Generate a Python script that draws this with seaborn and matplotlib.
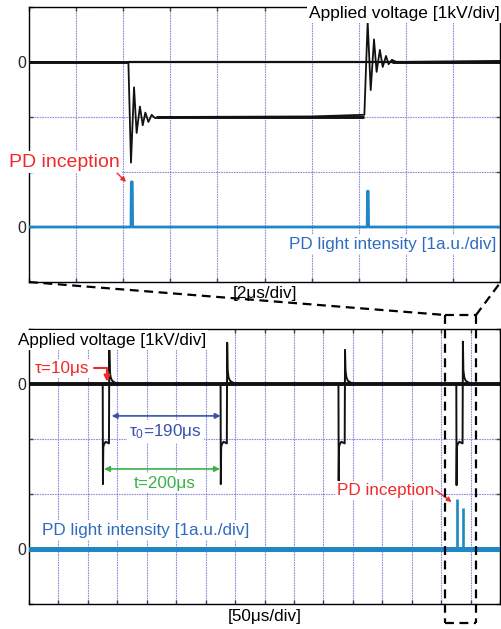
import numpy as np
import pandas as pd
import matplotlib
matplotlib.use("Agg")
import matplotlib.pyplot as plt
from matplotlib.lines import Line2D
import seaborn as sns

# ---------------- data ----------------
# Top panel: 2 us/div, voltage in divisions (1 kV/div), PD light offset -3 div
top_v_time = [0.0, 4.22, 4.33, 4.46, 4.57, 4.71, 4.83, 4.94, 5.07, 5.21, 5.35, 5.6,
              12.0, 14.24, 14.38, 14.51, 14.65, 14.76, 14.90, 15.02, 15.16, 15.27,
              15.41, 15.6, 20.0]
top_v_vals = [0.0, 0.0, -1.83, -0.46, -1.29, -0.81, -1.15, -0.92, -1.09, -0.96, -1.02,
              -1.0, -0.99, -0.96, 0.73, -0.51, 0.41, -0.18, 0.22, -0.09, 0.11, -0.04,
              0.04, 0.0, 0.02]
top_ref_start = 4.22
# flat (noisy) stretches of the top voltage trace: level, start, end
top_band_level = [0.0, -1.0, 0.0]
top_band_start = [0.0, 5.4, 15.4]
top_band_end = [4.22, 14.24, 20.0]
top_pd_time = [0.0, 4.33, 4.345, 4.385, 4.40, 14.36, 14.375, 14.405, 14.42, 20.0]
top_pd_vals = [-3.0, -3.0, -2.18, -2.18, -3.0, -3.0, -2.35, -2.35, -3.0, -3.0]

# Bottom panel: 50 us/div
pulse_starts = [125.2, 325.4, 525.6, 725.8]
pulse_down_peak = [-1.82, -1.82, -1.76, -1.84]
pulse_up_peak = [0.62, 0.75, 0.62, 0.77]
pulse_rel_time = [0.0, 0.4, 1.0, 2.0, 5.0, 10.6, 11.2, 12.0, 13.5, 16.0, 20.0, 26.0]
pulse_rel_vals = [0.0, None, -1.15, -1.1, -1.05, -1.08, None, 0.25, 0.12, 0.06, 0.03, 0.0]
bottom_end = 800.0
pd_base = -3.0
bot_pd_spike_time = [726.4, 736.6]
bot_pd_spike_top = [-2.09, -2.25]

# colours
BLACK = "#111111"
BLUE_TRACE = "#1f87c8"
BLUE_TXT = "#2f6cc0"
INDIGO = "#3b52a8"
RED = "#ee2a2a"
GREEN = "#3bb04a"
GRID = "#8080dc"

# build the bottom voltage trace from pulse template
bv_t, bv_v = [0.0], [0.0]
for s, dn, up in zip(pulse_starts, pulse_down_peak, pulse_up_peak):
    for rt, rv in zip(pulse_rel_time, pulse_rel_vals):
        bv_t.append(s + rt)
        if rv is None:
            rv = dn if rt < 5 else up
        bv_v.append(rv)
bv_t.append(bottom_end)
bv_v.append(0.0)

bp_t = [0.0, bottom_end]
bp_v = [pd_base, pd_base]

# ---------------- style ----------------
sns.set_style("ticks")
plt.rcParams["font.family"] = ["Liberation Sans", "DejaVu Sans"]
plt.rcParams["mathtext.fontset"] = "custom"
plt.rcParams["mathtext.rm"] = "Liberation Sans"
plt.rcParams["mathtext.it"] = "Liberation Sans"

W, H = 501, 629
FS = 12.3
fig = plt.figure(figsize=(W / 100, H / 100), dpi=100)
ax1 = fig.add_axes([29 / W, 1 - 282 / H, 471 / W, 275 / H])
ax2 = fig.add_axes([29 / W, 1 - 604 / H, 471 / W, 275 / H])


def style_axes(ax, xmax, ndiv):
    ax.set_xlim(0, xmax)
    ax.set_ylim(-4, 1)
    ax.set_xticks(np.linspace(0, xmax, ndiv + 1))
    ax.set_xticklabels([])
    ax.set_yticks([-4, -3, -2, -1, 0, 1])
    ax.set_yticklabels(["", "0", "", "", "0", ""], fontsize=11.5)
    ax.tick_params(direction="in", length=3, width=1, color="#444444",
                   top=True, right=True, pad=2)
    ax.grid(True, color=GRID, lw=0.8, ls=(0, (1.5, 0.8)), alpha=0.9)
    ax.set_axisbelow(True)
    for sp in ax.spines.values():
        sp.set_color("black")
        sp.set_linewidth(1.0)


style_axes(ax1, 20.0, 10)
style_axes(ax2, 800.0, 16)

# ---------------- traces ----------------
ax1.hlines(0, top_ref_start, 20.0, color=BLACK, lw=1.6, zorder=2)
ax1.hlines(top_band_level, top_band_start, top_band_end, color=BLACK, lw=2.1, zorder=2)
sns.lineplot(x=np.array(top_v_time), y=np.array(top_v_vals), ax=ax1, estimator=None,
             sort=False, color=BLACK, lw=1.3, zorder=3)
sns.lineplot(x=np.array(top_pd_time), y=np.array(top_pd_vals), ax=ax1, estimator=None,
             sort=False, color=BLUE_TRACE, lw=2.0, zorder=3)

ax2.hlines(0, 0, bottom_end, color=BLACK, lw=2.8, zorder=2)
sns.lineplot(x=np.array(bv_t), y=np.array(bv_v), ax=ax2, estimator=None,
             sort=False, color=BLACK, lw=1.4, zorder=3)
sns.lineplot(x=np.array(bp_t), y=np.array(bp_v), ax=ax2, estimator=None,
             sort=False, color=BLUE_TRACE, lw=3.6, zorder=3)
ax2.vlines(bot_pd_spike_time, pd_base, bot_pd_spike_top, color=BLUE_TRACE, lw=1.9, zorder=3)

for ax in (ax1, ax2):
    ax.set_xlabel("")
    ax.set_ylabel("")

box = dict(facecolor="white", edgecolor="none", pad=1.5)

# ---------------- top annotations ----------------
ax1.text(1.0, 0.976, "Applied voltage [1kV/div]", transform=ax1.transAxes,
         ha="right", va="center", fontsize=FS + 0.2, color="black", bbox=box, zorder=6)
ax1.text(0.993, 0.138, "PD light intensity [1a.u./div]", transform=ax1.transAxes,
         ha="right", va="center", fontsize=FS, color=BLUE_TXT, bbox=box, zorder=6)
ax1.text(0.193, 0.436, "PD inception", transform=ax1.transAxes,
         ha="right", va="center", fontsize=14, color=RED, bbox=box, zorder=6)
ax1.annotate("", xy=(4.12, -2.18), xytext=(3.74, -2.02),
             arrowprops=dict(arrowstyle="-|>", color=RED, lw=1.0, mutation_scale=7,
                             shrinkA=0, shrinkB=0), zorder=6)
ax1.text(0.5, -0.04, "[2μs/div]", transform=ax1.transAxes, ha="center",
         va="center", fontsize=FS, color="black", zorder=6)

# ---------------- bottom annotations ----------------
ax2.text(-0.0234, 0.96, "Applied voltage [1kV/div]", transform=ax2.transAxes,
         ha="left", va="center", fontsize=FS, color="black", bbox=box, zorder=6)
ax2.text(0.0276, 0.269, "PD light intensity [1a.u./div]", transform=ax2.transAxes,
         ha="left", va="center", fontsize=FS, color=BLUE_TXT, bbox=box, zorder=6)
ax2.text(10.2, 0.29, "τ=10μs", ha="left", va="center", fontsize=FS, color=RED,
         bbox=box, zorder=6)
ax2.annotate("", xy=(132.5, 0.04), xytext=(110.4, 0.29),
             arrowprops=dict(arrowstyle="-|>", color=RED, lw=1.5, mutation_scale=9,
                             shrinkA=0, shrinkB=0,
                             connectionstyle="angle,angleA=0,angleB=90,rad=0"), zorder=6)
ax2.annotate("", xy=(140.4, -0.58), xytext=(325.6, -0.58),
             arrowprops=dict(arrowstyle="<|-|>", color=INDIGO, lw=1.2, mutation_scale=8,
                             shrinkA=0, shrinkB=0), zorder=6)
ax2.text(232, -0.86, "τ$_0$=190μs", ha="center", va="center", fontsize=FS,
         color=INDIGO, bbox=box, zorder=6)
ax2.annotate("", xy=(127.4, -1.545), xytext=(324.4, -1.545),
             arrowprops=dict(arrowstyle="<|-|>", color=GREEN, lw=1.2, mutation_scale=8,
                             shrinkA=0, shrinkB=0), zorder=6)
ax2.text(230, -1.80, "t=200μs", ha="center", va="center", fontsize=FS,
         color=GREEN, bbox=box, zorder=6)
ax2.text(689, -1.93, "PD inception", ha="right", va="center", fontsize=FS,
         color=RED, bbox=box, zorder=6)
ax2.annotate("", xy=(717.9, -2.145), xytext=(690.7, -1.93),
             arrowprops=dict(arrowstyle="-|>", color=RED, lw=1.0, mutation_scale=7,
                             shrinkA=0, shrinkB=0), zorder=6)
ax2.text(0.5, -0.047, "[50μs/div]", transform=ax2.transAxes, ha="center",
         va="center", fontsize=FS, color="black", zorder=6)

# ---------------- zoom connector (dashed) ----------------
def fpt(x, y):
    return x / W, 1 - y / H

dash = dict(color="black", lw=1.6, ls=(0, (4, 2.5)), transform=fig.transFigure, zorder=10)
segs = [((29, 282), (445, 315)), ((476, 315), (500, 283)),
        ((445, 315), (476, 315)), ((445, 315), (445, 623)),
        ((476, 315), (476, 623)), ((445, 623), (476, 623))]
for (x0, y0), (x1, y1) in segs:
    a, b = fpt(x0, y0)
    c, d = fpt(x1, y1)
    fig.add_artist(Line2D([a, c], [b, d], **dash))

fig.savefig("out.png", dpi=100)
